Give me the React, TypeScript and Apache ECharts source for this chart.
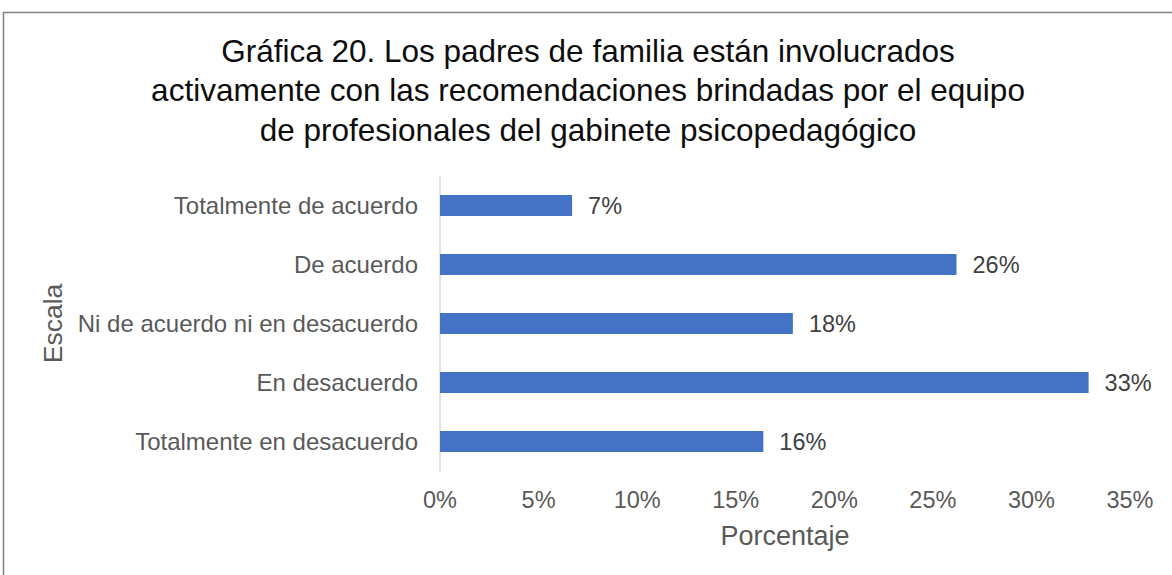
import React, { useEffect, useRef } from "react";
import * as echarts from "echarts";

const titleText =
  "Gráfica 20. Los padres de familia están involucrados\nactivamente con las recomendaciones brindadas por el equipo\nde profesionales del gabinete psicopedagógico";
const categories = [
  "Totalmente en desacuerdo",
  "En desacuerdo",
  "Ni de acuerdo ni en desacuerdo",
  "De acuerdo",
  "Totalmente de acuerdo",
];
const values = [16.4, 32.9, 17.9, 26.2, 6.7];
const xTicks = [0, 5, 10, 15, 20, 25, 30, 35];
const xAxisName = "Porcentaje";
const yAxisName = "Escala";

export default function App() {
  const ref = useRef<HTMLDivElement>(null);
  useEffect(() => {
    if (!ref.current) return;
    const chart = echarts.init(ref.current, null, { renderer: "svg" });
    const font = "'Liberation Sans', Arial, sans-serif";
    chart.setOption({
      animation: false,
      textStyle: { fontFamily: font },
      title: {
        text: titleText,
        left: 583,
        top: 26,
        textAlign: "center",
        textStyle: {
          fontFamily: font,
          fontSize: 31.5,
          fontWeight: "normal",
          color: "#0d0d0d",
          lineHeight: 39.5,
        },
      },
      graphic: [
        {
          type: "polyline",
          shape: { points: [[3.5, 600], [3.5, 12.5], [1200, 12.5]] },
          style: { stroke: "#808080", lineWidth: 1.5, fill: "none" },
          silent: true,
        },
      ],
      grid: { left: 440, right: 42, top: 176, bottom: 104 },
      xAxis: {
        type: "value",
        min: xTicks[0],
        max: xTicks[xTicks.length - 1],
        interval: 5,
        name: xAxisName,
        nameLocation: "middle",
        nameGap: 51,
        nameTextStyle: { fontSize: 27, color: "#595959", fontFamily: font },
        axisLine: { show: false },
        axisTick: { show: false },
        splitLine: { show: false },
        axisLabel: {
          formatter: (v: number) => v + "%",
          fontSize: 23.5,
          color: "#595959",
          margin: 17,
          fontFamily: font,
        },
      },
      yAxis: {
        type: "category",
        data: categories,
        name: yAxisName,
        nameLocation: "middle",
        nameGap: 367,
        nameTextStyle: { fontSize: 26.5, color: "#595959", fontFamily: font },
        axisLine: { show: true, lineStyle: { color: "#d9d9d9", width: 1.5 } },
        axisTick: { show: false },
        axisLabel: { fontSize: 24, color: "#595959", margin: 22, fontFamily: font },
      },
      series: [
        {
          type: "bar",
          data: values,
          barWidth: 21,
          itemStyle: { color: "#4472C4" },
          label: {
            show: true,
            position: "right",
            distance: 16,
            formatter: (p: any) => Math.round(p.value) + "%",
            fontSize: 23.5,
            color: "#404040",
            fontFamily: font,
          },
        },
      ],
    });
    return () => chart.dispose();
  }, []);
  return (
    <div
      ref={ref}
      style={{ position: "absolute", left: 0, top: 0, width: 1172, height: 575, background: "#fff" }}
    />
  );
}
